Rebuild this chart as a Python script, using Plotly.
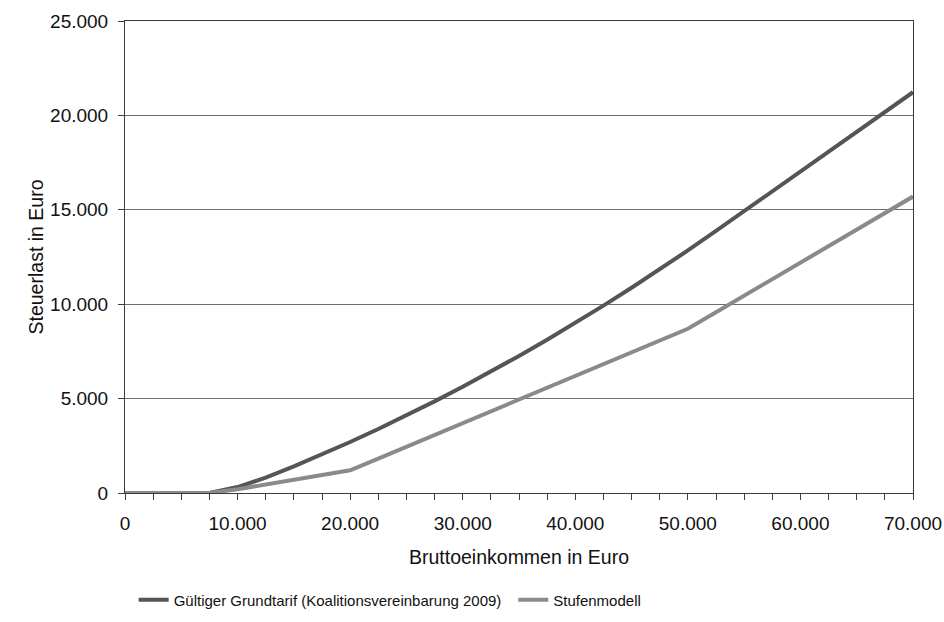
import plotly.graph_objects as go

einkommen = [0, 2500, 5000, 7500, 10000, 12500, 15000, 17500, 20000, 22500, 25000,
             27500, 30000, 32500, 35000, 37500, 40000, 42500, 45000, 47500, 50000,
             52500, 55000, 57500, 60000, 62500, 65000, 67500, 70000]

grundtarif = [0, 0, 0, 0, 316, 814, 1410, 2041, 2701, 3389, 4106,
              4852, 5626, 6428, 7259, 8119, 9008, 9924, 10870, 11844, 12847,
              13878, 14928, 15978, 17028, 18078, 19128, 20178, 21228]

stufenmodell = [0, 0, 0, 0, 200, 450, 700, 950, 1200, 1825, 2450,
                3075, 3700, 4325, 4950, 5575, 6200, 6825, 7450, 8075, 8700,
                9575, 10450, 11325, 12200, 13075, 13950, 14825, 15700]

x_tickvals = [0, 10000, 20000, 30000, 40000, 50000, 60000, 70000]
x_ticktext = ["0", "10.000", "20.000", "30.000", "40.000", "50.000", "60.000", "70.000"]
y_tickvals = [0, 5000, 10000, 15000, 20000, 25000]
y_ticktext = ["0", "5.000", "10.000", "15.000", "20.000", "25.000"]

name1 = "Gültiger Grundtarif (Koalitionsvereinbarung 2009)"
name2 = "Stufenmodell"

FONT = "Liberation Sans, Arial, sans-serif"
AX = "#3a3a3a"

fig = go.Figure()
fig.add_trace(go.Scatter(x=einkommen, y=grundtarif, mode="lines", name=name1,
                         line=dict(color="#555555", width=4), legend="legend"))
fig.add_trace(go.Scatter(x=einkommen, y=stufenmodell, mode="lines", name=name2,
                         line=dict(color="#8a8a8a", width=4), legend="legend2"))

leg_common = dict(orientation="h", yanchor="middle", xanchor="left",
                  font=dict(family=FONT, size=15, color="#111111"),
                  itemwidth=30, bgcolor="rgba(0,0,0,0)", borderwidth=0)

fig.update_layout(
    width=944, height=622,
    margin=dict(l=125, r=31, t=21, b=129, autoexpand=False),
    paper_bgcolor="white", plot_bgcolor="white",
    font=dict(family=FONT, size=19, color="#111111"),
    showlegend=True,
    legend=dict(x=0.011, y=-0.2267, **leg_common),
    legend2=dict(x=0.4927, y=-0.2267, **leg_common),
    xaxis=dict(
        range=[0, 70000], tickvals=x_tickvals, ticktext=x_ticktext,
        showgrid=False, zeroline=False, automargin=False,
        showline=True, linecolor=AX, linewidth=1, mirror=True,
        ticks="outside", ticklen=6, tickcolor=AX, ticklabelstandoff=7,
        tickfont=dict(size=19),
        minor=dict(dtick=2500, tick0=0, ticks="outside", ticklen=6, tickcolor=AX, showgrid=False),
        title=dict(text="Bruttoeinkommen in Euro", standoff=17, font=dict(size=19.5)),
    ),
    yaxis=dict(
        range=[0, 25000], tickvals=y_tickvals, ticktext=y_ticktext,
        showgrid=True, gridcolor="#6e6e6e", gridwidth=1, zeroline=False, automargin=False,
        showline=True, linecolor=AX, linewidth=1, mirror=True,
        ticks="outside", ticklen=6, tickcolor=AX, ticklabelstandoff=6,
        tickfont=dict(size=19),
        title=dict(text="Steuerlast in Euro", standoff=1, font=dict(size=19.5)),
    ),
)

fig.write_html("out.html",
               config={"displayModeBar": False},
               post_script="document.body.style.margin='0';document.body.style.overflow='hidden';")
